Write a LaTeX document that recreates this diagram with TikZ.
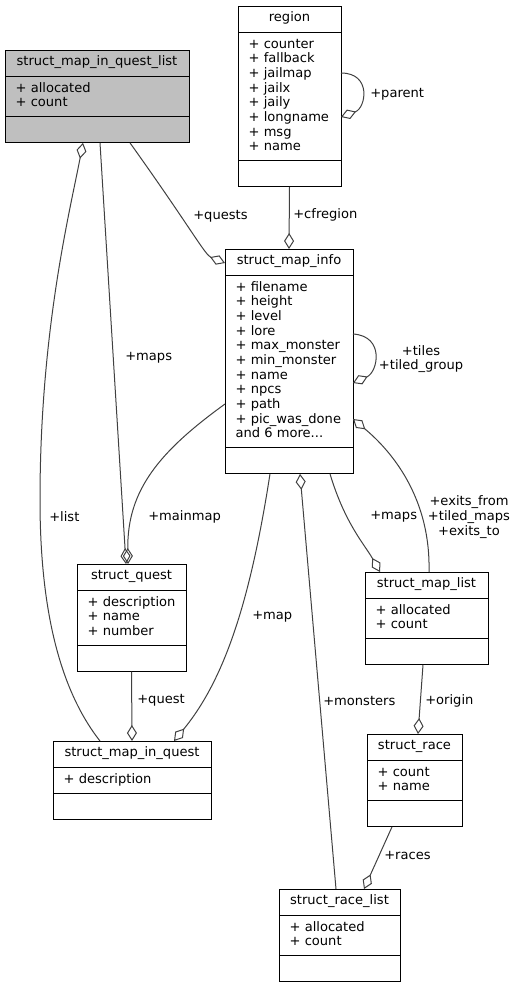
\documentclass[tikz,border=0pt]{standalone}
\usepackage{fontspec}
\setmainfont{DejaVu Sans}
\usetikzlibrary{shapes.multipart,arrows.meta,calc}
\definecolor{edgegray}{RGB}{64,64,64}
\definecolor{boxgray}{RGB}{191,191,191}
\begin{document}
\begin{tikzpicture}[x=0.75pt,y=-0.75pt,
    font=\fontsize{9.8}{11}\selectfont,
    cls/.style ={rectangle split, rectangle split parts=3, draw, line width=0.75pt,
      anchor=north west, inner xsep=8pt, inner ysep=3.9pt, outer sep=0pt,
      rectangle split part align={center,left,left}, align=left},
    member/.style ={draw=edgegray, line width=0.75pt, -{Diamond[open,length=12pt,width=7.5pt]}},
    lbl/.style ={anchor=west, inner sep=0pt}]
   \useasboundingbox (0,0) rectangle (517,985);
   % classes
   \node[cls, fill=boxgray, minimum width=138pt] (mqlist) at (5,50)
     {\strut struct\_map\_in\_quest\_list
      \nodepart{two}\strut + allocated\\+ count\strut
      \nodepart{three}\strut};
   \node[cls, minimum width=77.25pt] (region) at (238,6)
     {\strut region
      \nodepart{two}\strut + counter\\+ fallback\\+ jailmap\\+ jailx\\+ jaily\\+ longname\\+ msg\\+ name\strut
      \nodepart{three}\strut};
   \node[cls, minimum width=96pt] (info) at (225,249)
     {\strut struct\_map\_info
      \nodepart{two}\strut + filename\\+ height\\+ level\\+ lore\\+ max\_monster\\+ min\_monster\\+ name\\+ npcs\\+ path\\+ pic\_was\_done\\and 6 more...\strut
      \nodepart{three}\strut};
   \node[cls, minimum width=81.75pt] (quest) at (77,564)
     {\strut struct\_quest
      \nodepart{two}\strut + description\\+ name\\+ number\strut
      \nodepart{three}\strut};
   \node[cls, minimum width=118.5pt] (miq) at (53,741)
     {\strut struct\_map\_in\_quest
      \nodepart{two}\strut + description\strut
      \nodepart{three}\strut};
   \node[cls, minimum width=92.25pt] (maplist) at (365,572)
     {\strut struct\_map\_list
      \nodepart{two}\strut + allocated\\+ count\strut
      \nodepart{three}\strut};
   \node[cls, minimum width=71.25pt] (race) at (367,734)
     {\strut struct\_race
      \nodepart{two}\strut + count\\+ name\strut
      \nodepart{three}\strut};
   \node[cls, minimum width=90.75pt] (racelist) at (279,889)
     {\strut struct\_race\_list
      \nodepart{two}\strut + allocated\\+ count\strut
      \nodepart{three}\strut};
   % members
   \draw[member] ($(region.north east)+(0,67)$) .. controls +(31,0) and +(25,-9) .. ($(region.north east)+(0,111)$);
   \draw[member] (region.south) -- (info.north);
   \draw[member] ($(mqlist.south west)+(125,0)$) .. controls +(60,84) and +(-20,-8) .. ($(info.north west)+(0,14)$);
   \draw[member] ($(info.north east)+(0,85)$) .. controls +(32,2) and +(25,-11) .. ($(info.north east)+(0,134)$);
   \draw[member] ($(maplist.north west)+(64,0)$) .. controls +(2,-82) and +(30,25) .. ($(info.north east)+(0,170)$);
   \draw[member] ($(info.south west)+(105,0)$) .. controls +(15,50) and +(-15,-27) .. ($(maplist.north west)+(15,0)$);
   \draw[member] ($(racelist.north west)+(57,0)$) -- ($(info.south west)+(75,0)$);
   \draw[member] ($(info.south west)+(45,0)$) .. controls +(-20,129) and +(50,-61) .. ($(miq.north west)+(121,0)$);
   \draw[member] ($(info.north west)+(0,155)$) .. controls +(-65,47) and +(-1,-74) .. ($(quest.north west)+(51,0)$);
   \draw[member] ($(mqlist.south west)+(95,0)$) -- ($(quest.north west)+(49,0)$);
   \draw[member] ($(miq.north west)+(47,0)$) .. controls +(-40,-51) and +(0,110) .. (40,500)
     .. controls +(0,-170) and +(-13,68) .. ($(mqlist.south west)+(78,0)$);
   \draw[member] (quest.south) -- (miq.north);
   \draw[member] ($(maplist.south west)+(58,0)$) -- ($(race.north west)+(51,0)$);
   \draw[member] ($(race.south west)+(25,0)$) -- ($(racelist.north west)+(85,0)$);
   % labels
   \node[lbl] (lparent) at (370,94) {+parent};
   \node[lbl] (lcfregion) at (293,215) {+cfregion};
   \node[lbl] (lquests) at (193,216) {+quests};
   \node[align=center, inner sep=0pt] (ltiles) at (421,359) {+tiles\\+tiled\_group};
   \node[align=center, inner sep=0pt] (lexits) at (469,517) {+exits\_from\\+tiled\_maps\\+exits\_to};
   \node[lbl] (lmaps) at (370,517) {+maps};
   \node[lbl] (lmonsters) at (323,701) {+monsters};
   \node[lbl] (lmap) at (252,617) {+map};
   \node[lbl] (lmainmap) at (148,517) {+mainmap};
   \node[lbl] (lqmaps) at (125,358) {+maps};
   \node[lbl] (llist) at (49,517) {+list};
   \node[lbl] (lquest) at (137,700) {+quest};
   \node[lbl] (lorigin) at (425,701) {+origin};
   \node[lbl] (lraces) at (384,855) {+races};
\end{tikzpicture}
\end{document}
